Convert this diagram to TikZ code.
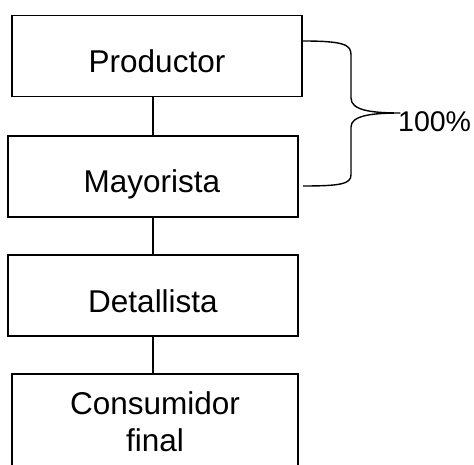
\documentclass[tikz,border=0pt]{standalone}
\usepackage{fontspec}
\setmainfont{Liberation Sans}
\begin{document}
\begin{tikzpicture}[x=1pt,y=-1pt,
  box/.style={draw, line width=1.3pt, minimum width=290pt, minimum height=81pt, inner sep=0pt},
  lbl/.style={font=\fontsize{31.5}{37}\selectfont, anchor=base, inner sep=0pt},
  conn/.style={line width=1.3pt}]
\useasboundingbox[fill=white] (0,0) rectangle (474,465);
\node[box] (prod) at (157,56) {};
\node[box] (mayo) at (153,176.5) {};
\node[box] (deta) at (153,295.5) {};
\node[box, minimum width=286pt, minimum height=110pt] (cons) at (155,429) {};
\node[lbl] (tprod) at (157,73) {Productor};
\node[lbl] (tmayo) at (152,193) {Mayorista};
\node[lbl] (tdeta) at (153,312) {Detallista};
\node[lbl, align=center] (tcons) at (155,451) {Consumidor\\final};
\node[lbl, anchor=base west, font=\fontsize{28.5}{34}\selectfont] (pct) at (398,132) {100\%};
\draw[conn] (mayo.north |- prod.south) -- (mayo.north);
\draw[conn] (mayo.south) -- (deta.north);
\draw[conn] (deta.south) -- (deta.south |- cons.north);
\coordinate (tip) at (400,113);
\draw[line width=1.4pt, line join=round]
  (303,41) .. controls (345,41) and (351,45) .. (351,55)
  -- (351,98) .. controls (351,110) and (370,113) .. (tip)
  .. controls (370,113) and (351,116) .. (351,127)
  -- (351,175) .. controls (351,184) and (340,186) .. (303,186);
\end{tikzpicture}
\end{document}
